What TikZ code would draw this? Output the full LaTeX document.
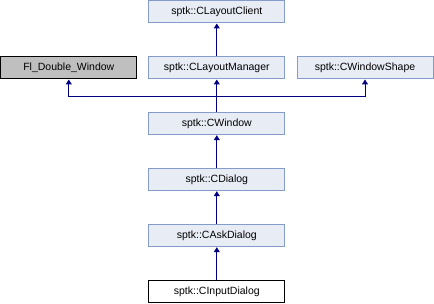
\documentclass[tikz,border=0pt]{standalone}
\usepackage{fontspec}
\setmainfont{Liberation Sans}
\usetikzlibrary{arrows.meta}
\definecolor{boxfill}{HTML}{E8ECF5}
\definecolor{boxline}{HTML}{849CCC}
\definecolor{arrcol}{HTML}{000080}
\definecolor{grayfill}{HTML}{BFBFBF}
\tikzset{
  cls/.style={draw=boxline, fill=boxfill, line width=1pt, minimum width=136pt, minimum height=22pt, inner sep=0pt, font=\fontsize{10.5}{12}\selectfont},
  ext/.style={cls, draw=black, fill=grayfill},
  cur/.style={cls, draw=black, fill=white},
  arr/.style={draw=arrcol, line width=1pt, -{Triangle[length=5pt,width=6pt]}},
}
\begin{document}
\begin{tikzpicture}[x=1pt,y=-1pt]
\useasboundingbox (0,0) rectangle (434,304);
\node[cls] (clc) at (216.8,12) {sptk::CLayoutClient};
\node[ext] (fl) at (68.8,68) {Fl\_Double\_Window};
\node[cls] (clm) at (216.8,68) {sptk::CLayoutManager};
\node[cls] (cws) at (365,68) {sptk::CWindowShape};
\node[cls] (cw) at (216.8,123.7) {sptk::CWindow};
\node[cls] (cd) at (216.8,179.7) {sptk::CDialog};
\node[cls] (cad) at (216.8,235.7) {sptk::CAskDialog};
\node[cur] (cid) at (216.8,291.7) {sptk::CInputDialog};
\coordinate (j) at (217.3,96.7);
\draw[arr] (clm.north) -- (clc.south);
\draw[arr] (cw.north) -- (clm.south);
\draw[arr] (j) -| (fl.south);
\draw[arr] (j) -| (cws.south);
\draw[arr] (cd.north) -- (cw.south);
\draw[arr] (cad.north) -- (cd.south);
\draw[arr] (cid.north) -- (cad.south);
\end{tikzpicture}
\end{document}
